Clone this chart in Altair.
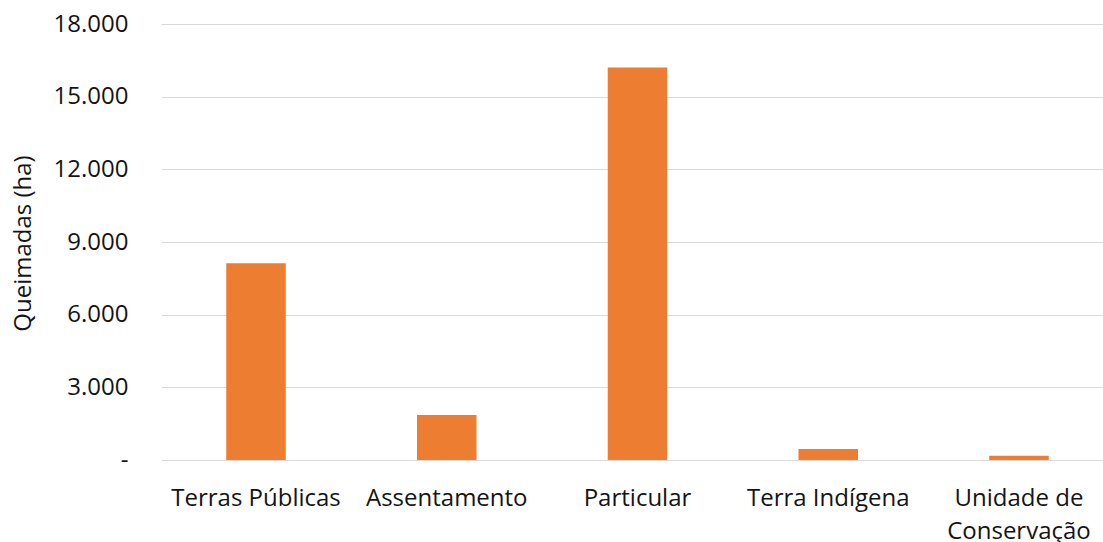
import altair as alt
import pandas as pd

# Burned area by land category (hectares)
categorias = ["Terras Públicas", "Assentamento", "Particular", "Terra Indígena", "Unidade de Conservação"]
area_ha = [8120, 1860, 16200, 450, 180]
y_ticks = [0, 3000, 6000, 9000, 12000, 15000, 18000]

df = pd.DataFrame({"categoria": categorias, "area": area_ha})

FONT = "Open Sans"
TEXT = "#141414"

bars = alt.Chart(df).mark_bar(color="#ED7D31").encode(
    x=alt.X(
        "categoria:N",
        sort=categorias,
        scale=alt.Scale(paddingInner=0.688, paddingOuter=0.3133, align=0.546),
        axis=alt.Axis(
            title=None,
            labelAngle=0,
            domain=False,
            ticks=False,
            grid=False,
            labelPadding=26,
            labelFontSize=24,
            labelFont=FONT,
            labelColor=TEXT,
            labelLineHeight=33,
            labelExpr="datum.label == 'Unidade de Conservação' ? ['Unidade de', 'Conservação'] : datum.label",
        ),
    ),
    y=alt.Y(
        "area:Q",
        scale=alt.Scale(domain=[0, 18000], nice=False),
        axis=alt.Axis(
            title="Queimadas (ha)",
            values=y_ticks,
            domain=False,
            ticks=False,
            labelPadding=33,
            labelFontSize=24,
            labelFont=FONT,
            labelColor=TEXT,
            labelExpr="datum.value == 0 ? '-\u00a0\u00a0' : replace(format(datum.value, ','), ',', '.')",
            grid=True,
            gridColor="#D9D9D9",
            gridWidth=1.2,
            titleFont=FONT,
            titleFontSize=24,
            titleFontWeight="normal",
            titleColor=TEXT,
            titleAngle=-90,
            titleAlign="center",
            titleBaseline="middle",
            titleX=-138,
            titleY=219,
        ),
    ),
)

chart = bars.properties(
    width=942,
    height=436,
    background="white",
    autosize=alt.AutoSizeParams(type="none"),
    padding={"left": 161, "top": 24, "right": 0, "bottom": 82},
).configure_view(strokeWidth=0, strokeOpacity=0)

chart.save("out.html", embed_options={"renderer": "svg", "actions": False})
